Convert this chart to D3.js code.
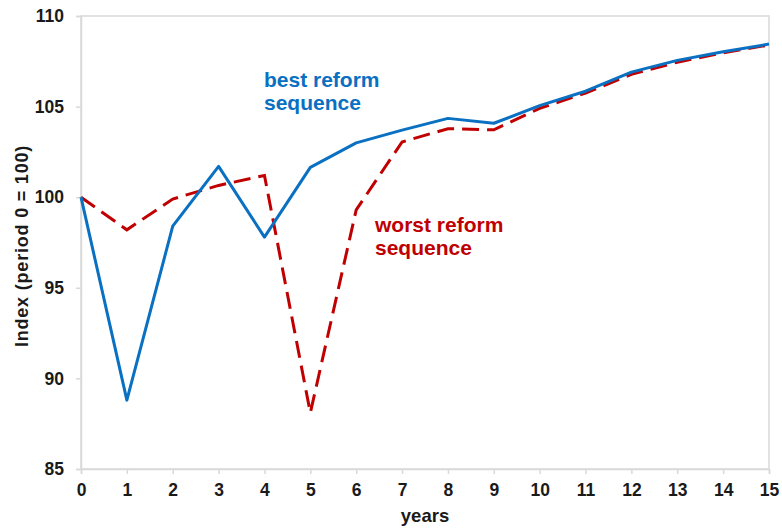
<!DOCTYPE html>
<html>
<head>
<meta charset="utf-8">
<script src="https://cdn.jsdelivr.net/npm/d3@7"></script>
<style>
  body { margin: 0; background: #fff; }
  text { font-family: "Liberation Sans", Arial, sans-serif; font-weight: bold; }
</style>
</head>
<body>
<svg id="chart"></svg>
<script>
var years = [0, 1, 2, 3, 4, 5, 6, 7, 8, 9, 10, 11, 12, 13, 14, 15];
var bestSeq  = [100, 88.8, 98.4, 101.7, 97.8, 101.65, 103.0, 103.7, 104.35, 104.08, 105.05, 105.85, 106.9, 107.55, 108.03, 108.45];
var worstSeq = [100, 98.2, 99.9, 100.65, 101.2, 88.1, 99.3, 103.05, 103.78, 103.72, 104.9, 105.75, 106.78, 107.45, 107.97, 108.4];
var yTicks = [85, 90, 95, 100, 105, 110];

var width = 782, height = 529;
var margin = {top: 16, right: 13, bottom: 60, left: 81};

var svg = d3.select("#chart")
	.attr("width", width)
	.attr("height", height);

var x = d3.scaleLinear()
	.domain([0, 15])
	.range([margin.left, width - margin.right]);

var y = d3.scaleLinear()
	.domain([85, 110])
	.range([height - margin.bottom, margin.top]);

// plot frame
svg.append("rect")
	.attr("x", x(0))
	.attr("y", y(110))
	.attr("width", x(15) - x(0))
	.attr("height", y(85) - y(110))
	.attr("fill", "none")
	.attr("stroke", "#d9d9d9")
	.attr("stroke-width", 1.5);

// x axis
var xAxis = svg.append("g")
	.attr("transform", "translate(0," + y(85) + ")")
	.call(d3.axisBottom(x).tickValues(years).tickSize(5).tickPadding(10).tickFormat(d3.format("d")));

// y axis
var yAxis = svg.append("g")
	.attr("transform", "translate(" + x(0) + ",0)")
	.call(d3.axisLeft(y).tickValues(yTicks).tickSize(5).tickPadding(12));

[xAxis, yAxis].forEach(function(ax) {
	ax.select(".domain").attr("stroke", "#d9d9d9").attr("stroke-width", 1.5);
	ax.selectAll(".tick line").attr("stroke", "#d9d9d9").attr("stroke-width", 1.5);
	ax.selectAll(".tick text")
		.attr("fill", "#1a1a1a")
		.style("font-size", "17.5px")
		.style("font-family", "'Liberation Sans', Arial, sans-serif")
		.style("font-weight", "bold");
});

// axis titles
svg.append("text")
	.attr("x", (x(0) + x(15)) / 2)
	.attr("y", 522)
	.attr("text-anchor", "middle")
	.attr("fill", "#1a1a1a")
	.style("font-size", "18.5px")
	.text("years");

svg.append("text")
	.attr("transform", "translate(28,246) rotate(-90)")
	.attr("text-anchor", "middle")
	.attr("fill", "#1a1a1a")
	.style("font-size", "18px")
	.style("letter-spacing", "0.8px")
	.text("Index (period 0 = 100)");

var line = d3.line()
	.x(function(d, i) { return x(years[i]); })
	.y(function(d) { return y(d); });

svg.append("path")
	.datum(worstSeq)
	.attr("d", line)
	.attr("fill", "none")
	.attr("stroke", "#c00000")
	.attr("stroke-width", 3)
	.attr("stroke-dasharray", "17,8");

svg.append("path")
	.datum(bestSeq)
	.attr("d", line)
	.attr("fill", "none")
	.attr("stroke", "#0a70c2")
	.attr("stroke-width", 3)
	.attr("stroke-linejoin", "round");

// series labels
var bestLabel = svg.append("text")
	.attr("x", 264)
	.attr("y", 87)
	.attr("fill", "#0a70c2")
	.style("font-size", "21px");
bestLabel.append("tspan").attr("x", 264).text("best reform");
bestLabel.append("tspan").attr("x", 264).attr("dy", 23).text("sequence");

var worstLabel = svg.append("text")
	.attr("x", 375)
	.attr("y", 232)
	.attr("fill", "#c00000")
	.style("font-size", "21px");
worstLabel.append("tspan").attr("x", 375).text("worst reform");
worstLabel.append("tspan").attr("x", 375).attr("dy", 23).text("sequence");
</script>
</body>
</html>
